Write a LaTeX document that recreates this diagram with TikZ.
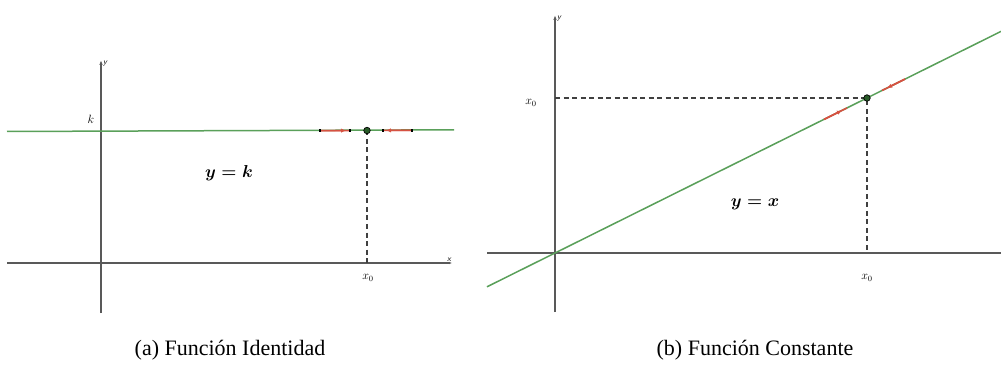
\documentclass[tikz,border=0pt]{standalone}
\usepackage{fontspec}
\setmainfont{Liberation Serif}
\usetikzlibrary{arrows.meta}
\definecolor{gline}{RGB}{90,160,90}
\definecolor{rseg}{RGB}{214,82,66}
\definecolor{ptfill}{RGB}{40,90,40}
\begin{document}
\begin{tikzpicture}[x=1pt,y=-1pt,
  axis/.style={draw=black!65,line width=1.4pt},
  graphline/.style={draw=gline,line width=1.5pt},
  guide/.style={draw=black!75,line width=1.3pt,dash pattern=on 5pt off 3.5pt},
  redseg/.style={draw=rseg,line width=1.6pt},
  redtip/.style={draw=rseg,line width=1.6pt,-{Latex[length=5pt,width=4.5pt]}},
  endmark/.style={fill=black,inner sep=0pt,minimum width=2pt,minimum height=2.5pt},
  gpoint/.style={circle,fill=ptfill,draw=black,line width=0.7pt,inner sep=0pt,minimum size=6.5pt},
  lab/.style={inner sep=0pt,font=\fontsize{12}{12}\selectfont},
  axlab/.style={inner sep=0pt,font=\fontsize{8}{8}\selectfont\sffamily\itshape},
  eqlab/.style={inner sep=0pt,font=\fontsize{17}{17}\selectfont\boldmath},
  caption/.style={inner sep=0pt,font=\fontsize{22}{22}\selectfont}]
\useasboundingbox (0,0) rectangle (1001,390);
% ---------- (a) ----------
\coordinate (a-ytop) at (101,60);
\coordinate (a-ybot) at (101,313);
\coordinate (a-xl) at (7,263);
\coordinate (a-xr) at (452,263);
\coordinate (a-gl) at (7,131.5);
\coordinate (a-gr) at (454,129.8);
\coordinate (a-foot) at (367,263);
\draw[axis,-{Latex[length=5pt,width=3.5pt]}] (a-ybot) -- (a-ytop);
\draw[axis,-{Latex[length=3pt,width=2.5pt]}] (a-xl) -- (a-xr);
\draw[graphline] (a-gl) -- (a-gr);
\draw[guide] (367,130.5) -- (a-foot);
\coordinate (a-r1s) at (320,130.7);
\coordinate (a-r1m) at (346,130.6);
\coordinate (a-r1e) at (350,130.6);
\coordinate (a-r2s) at (412,130.3);
\coordinate (a-r2m) at (386,130.4);
\coordinate (a-r2e) at (383,130.4);
\draw[redseg] (a-r1s) -- (a-r1e);
\draw[redtip] (a-r1s) -- (a-r1m);
\draw[redseg] (a-r2s) -- (a-r2e);
\draw[redtip] (a-r2s) -- (a-r2m);
\node[endmark] (a-m1) at (a-r1s) {};
\node[endmark] (a-m2) at (a-r1e) {};
\node[endmark] (a-m3) at (a-r2s) {};
\node[endmark] (a-m4) at (a-r2e) {};
\node[gpoint] (a-P) at (367,130.5) {};
\node[lab] (a-k) at (91,119) {$k$};
\node[axlab,anchor=west] (a-y) at (103,64) {y};
\node[axlab] (a-x) at (449,260) {x};
\node[lab] (a-x0) at (368,278) {$x_0$};
\node[eqlab] (a-eq) at (229,173) {$y=k$};
\node[caption] (a-cap) at (230,350) {(a) Función Identidad};
% ---------- (b) ----------
\coordinate (b-ytop) at (555,15);
\coordinate (b-ybot) at (555,312);
\coordinate (b-xl) at (487,253);
\coordinate (b-xr) at (1001,253);
\coordinate (b-gl) at (487,286.8);
\coordinate (b-gr) at (1001,31.4);
\coordinate (b-yfoot) at (555,98);
\coordinate (b-xfoot) at (867,253);
\draw[axis,-{Latex[length=5pt,width=3.5pt]}] (b-ybot) -- (b-ytop);
\draw[axis] (b-xl) -- (b-xr);
\draw[graphline] (b-gl) -- (b-gr);
\draw[guide] (b-yfoot) -- (867,98) -- (b-xfoot);
\coordinate (b-r1s) at (824,119.4);
\coordinate (b-r1m) at (842,110.4);
\coordinate (b-r1e) at (847,107.9);
\coordinate (b-r2s) at (905,79.1);
\coordinate (b-r2m) at (887,88.1);
\coordinate (b-r2e) at (882,90.5);
\draw[redseg] (b-r1s) -- (b-r1e);
\draw[redtip] (b-r1s) -- (b-r1m);
\draw[redseg] (b-r2s) -- (b-r2e);
\draw[redtip] (b-r2s) -- (b-r2m);
\node[gpoint] (b-P) at (867,98) {};
\node[lab] (b-x0a) at (531,103) {$x_0$};
\node[lab] (b-x0b) at (867,278) {$x_0$};
\node[axlab,anchor=west] (b-y) at (557,19) {y};
\node[eqlab] (b-eq) at (755,204) {$y=x$};
\node[caption] (b-cap) at (755,350) {(b) Función Constante};
\end{tikzpicture}
\end{document}
